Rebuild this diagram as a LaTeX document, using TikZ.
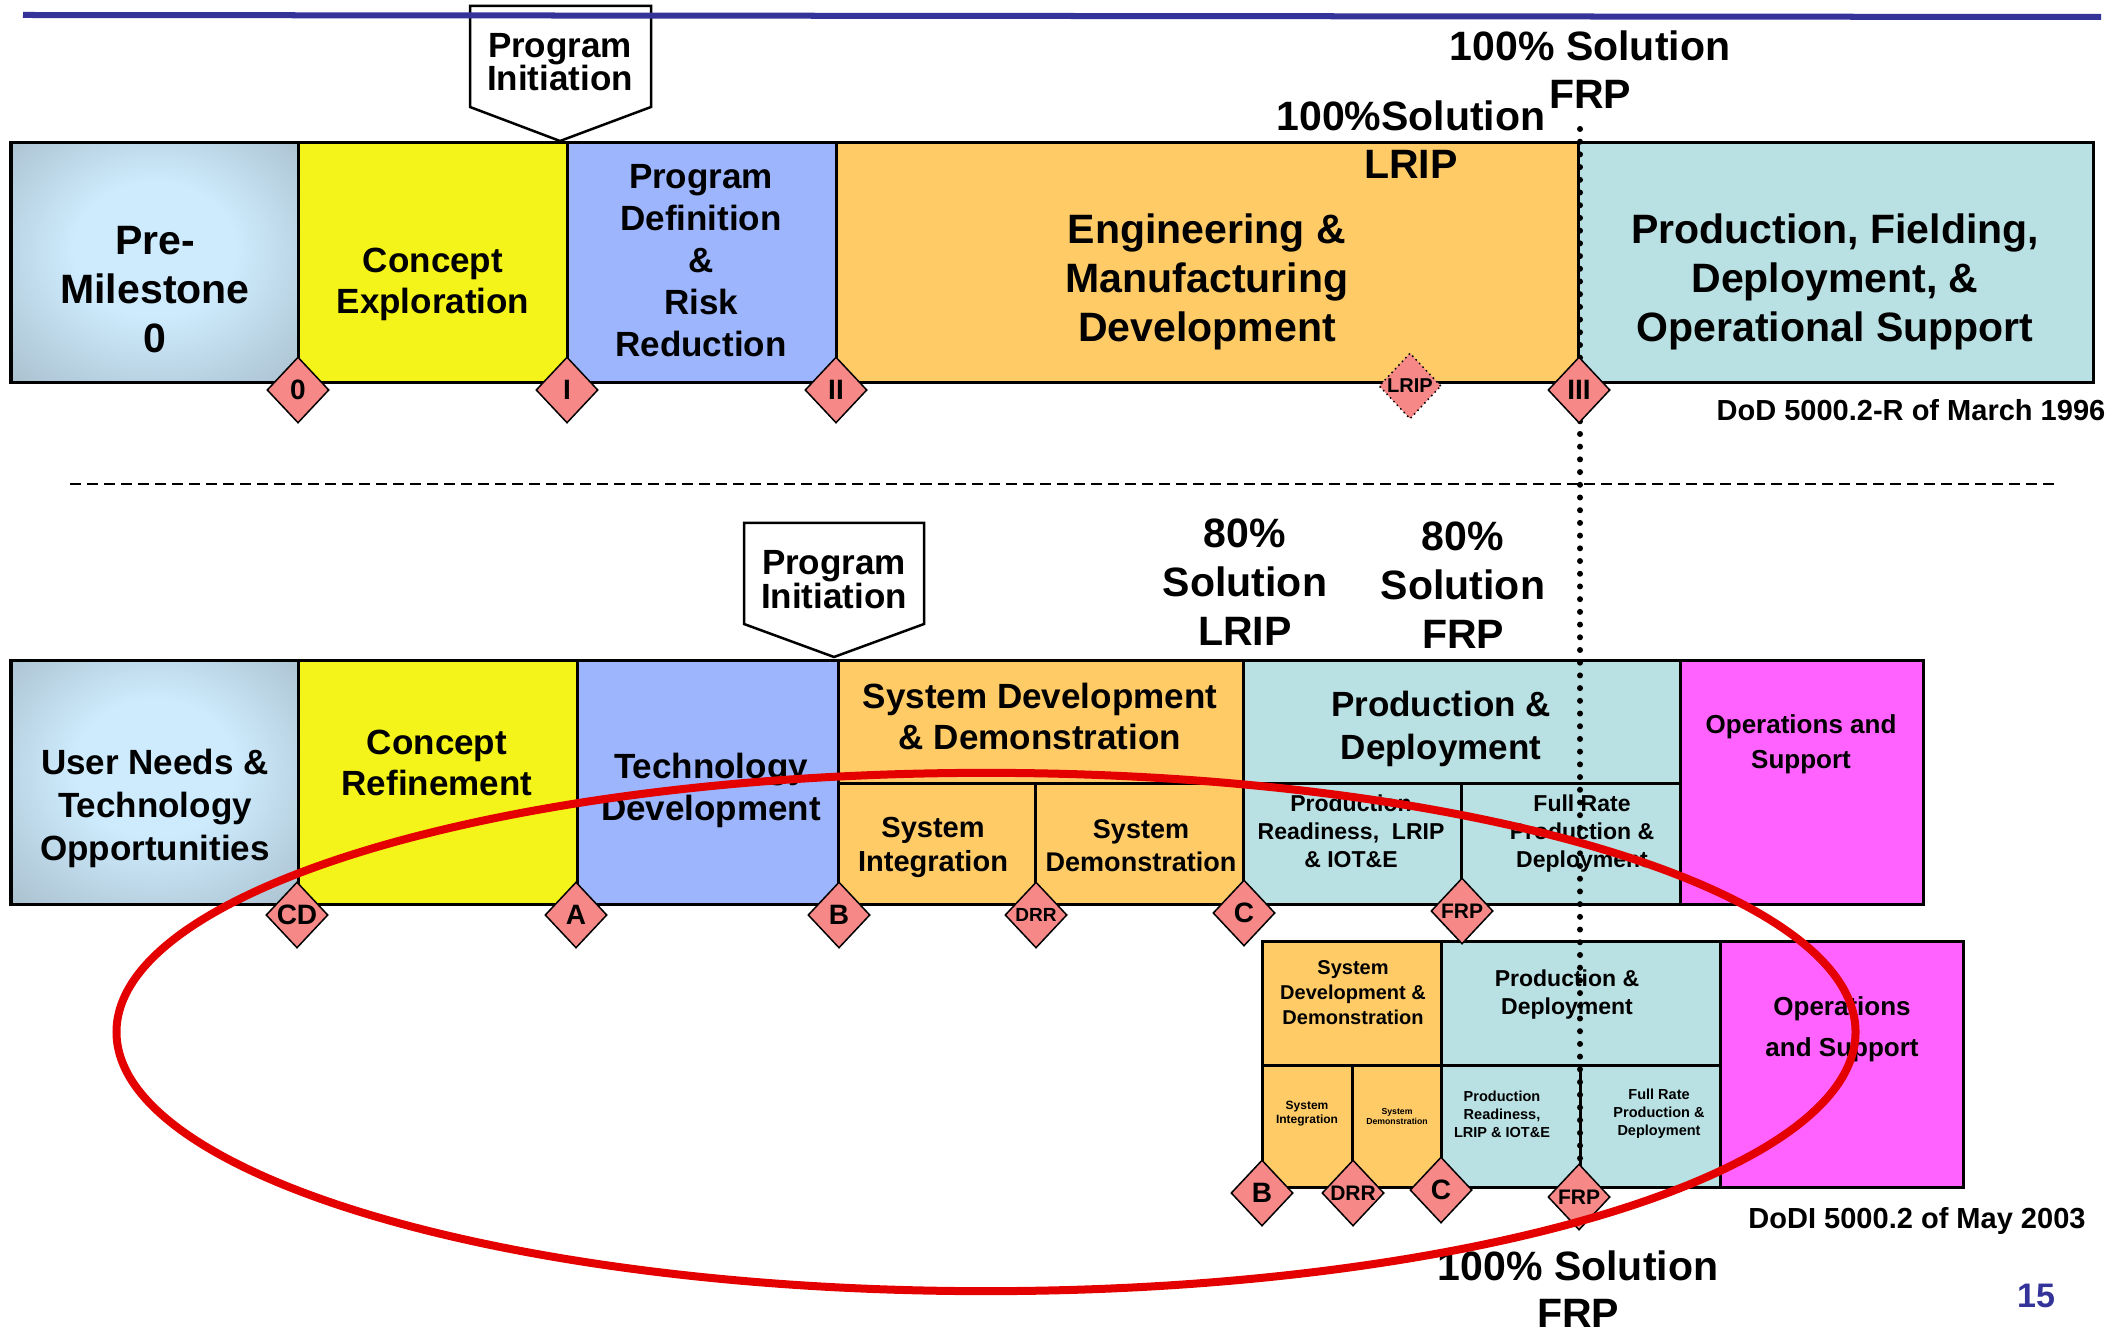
\documentclass[tikz,border=0pt]{standalone}
\usepackage{fontspec}
\setmainfont{Liberation Sans}
\usetikzlibrary{shapes.geometric}
\definecolor{pmin}{HTML}{CDEBFD}
\definecolor{pmout}{HTML}{A4B9C7}
\definecolor{cyel}{HTML}{F4F41A}
\definecolor{cper}{HTML}{9DB5FD}
\definecolor{cora}{HTML}{FECB67}
\definecolor{cteal}{HTML}{B9E0E3}
\definecolor{cmag}{HTML}{FF62FF}
\definecolor{cdia}{HTML}{F78888}
\definecolor{cblue}{HTML}{333399}
\definecolor{cred}{HTML}{E50000}
\pgfdeclareradialshading{pmshade}{\pgfpoint{0bp}{4bp}}{color(0bp)=(pmin); color(14bp)=(pmin); color(40bp)=(pmout); color(50bp)=(pmout)}
\newcommand\pxfont[2]{\pgfmathsetmacro\pxa{#1*0.28453}\pgfmathsetmacro\pxb{#2*0.28453}\fontsize{\pxa pt}{\pxb pt}\selectfont\bfseries}
\tikzset{
  box/.style={draw=black, line width=0.03cm},
  lbl/.style={align=center, inner sep=0pt, text=black},
  ms/.style={diamond, draw=black, fill=cdia, line width=0.015cm, inner sep=0pt, minimum width=0.62cm, minimum height=0.66cm, text=black},
  pent/.style={draw=black, fill=white, line width=0.025cm},
  dotline/.style={line width=0.06cm, line cap=round, dash pattern=on 0pt off 0.127cm},
}
\begin{document}
\begin{tikzpicture}[x=0.01cm,y=-0.01cm]
\path[use as bounding box] (0,0) rectangle (2107,1331);

% ---------- top (1996) ----------
\draw[pent] (470,6) -- (651,6) -- (651,107) -- (560,141) -- (470,107) -- cycle;
\draw[cblue, line width=0.06cm] (23,15) -- (2101,17);
\node[lbl, font=\pxfont{35}{33}] (pi1) at (560,62) {Program\\Initiation};

\shade[shading=pmshade] (11,143) rectangle (298,383);
\draw[box] (11,143) rectangle (298,383);
\filldraw[box, fill=cyel] (298,143) rectangle (567,383);
\filldraw[box, fill=cper] (567,143) rectangle (836,383);
\filldraw[box, fill=cora] (836,143) rectangle (1578,383);
\filldraw[box, fill=cteal] (1578,143) rectangle (2093,383);

% ---------- dashed separator ----------
\coordinate (dl) at (70,484);
\coordinate (dr) at (2058,484);
\draw[line width=0.02cm, dash pattern=on 0.11cm off 0.06cm] (dl) -- (dr);

% ---------- lower row (2003) ----------
\draw[pent] (744,523) -- (924,523) -- (924,624) -- (834,657) -- (744,624) -- cycle;
\node[lbl, font=\pxfont{35}{34}] (pi2) at (834,580) {Program\\Initiation};

\shade[shading=pmshade] (11,660) rectangle (298,904);
\draw[box] (11,660) rectangle (298,904);
\filldraw[box, fill=cyel] (298,660) rectangle (577,904);
\filldraw[box, fill=cper] (577,660) rectangle (838,904);
\filldraw[box, fill=cora] (838,660) rectangle (1243,904);
\draw[box] (838,783) -- (1243,783) (1035,783) -- (1035,904);
\filldraw[box, fill=cteal] (1243,660) rectangle (1680,904);
\draw[box] (1243,783) -- (1680,783) (1461,783) -- (1461,904);
\filldraw[box, fill=cmag] (1680,660) rectangle (1923,904);

% ---------- small group ----------
\filldraw[box, fill=cora] (1262,941) rectangle (1441,1187);
\draw[box] (1262,1065) -- (1441,1065) (1352,1065) -- (1352,1187);
\filldraw[box, fill=cteal] (1441,941) rectangle (1720,1187);
\draw[box] (1441,1065) -- (1720,1065) (1580,1065) -- (1580,1187);
\filldraw[box, fill=cmag] (1720,941) rectangle (1963,1187);

% ---------- dotted vertical ----------
\coordinate (dtop) at (1580,129);
\coordinate (dbot) at (1580,1232);
\draw[dotline] (dtop) -- (dbot);

% ---------- texts top ----------
\node[lbl, font=\pxfont{41}{49}] (t1) at (155,290) {Pre-\\Milestone\\0};
\node[lbl, font=\pxfont{35}{41}] (t2) at (433,284) {Concept\\Exploration};
\node[lbl, font=\pxfont{35}{42}] (t3) at (701,261) {Program\\Definition\\\&\\Risk\\Reduction};
\node[lbl, font=\pxfont{41}{49}] (t4) at (1207,282) {Engineering \&\\Manufacturing\\Development};
\node[lbl, font=\pxfont{41}{49}] (t5) at (1835,282) {Production, Fielding,\\Deployment, \&\\Operational Support};
\node[lbl, font=\pxfont{41}{48}] (s1) at (1590,70) {100\% Solution\\FRP};
\node[lbl, font=\pxfont{41}{48}] (s2) at (1411,140) {100\%Solution\\LRIP};
\node[lbl, font=\pxfont{29}{32}, anchor=east] (dod1) at (2106,410) {DoD 5000.2-R of March 1996};

% ---------- texts lower row ----------
\node[lbl, font=\pxfont{35}{43}] (u1) at (155,808) {User Needs \&\\Technology\\Opportunities};
\node[lbl, font=\pxfont{35}{41}] (u2) at (437,763) {Concept\\Refinement};
\node[lbl, font=\pxfont{35}{42}] (u3) at (711,790) {Technology\\Development};
\node[lbl, font=\pxfont{35}{41}] (u4) at (1040,716) {System Development\\\& Demonstration};
\node[lbl, font=\pxfont{29}{34}] (u5) at (933,847) {System\\Integration};
\node[lbl, font=\pxfont{27}{33}] (u6) at (1141,846) {System\\Demonstration};
\node[lbl, font=\pxfont{35}{43}] (u7) at (1441,729) {Production \&\\Deployment};
\node[lbl, font=\pxfont{23}{28}] (u8) at (1351,831) {Production\\Readiness,\ \ LRIP\\\& IOT\&E};
\node[lbl, font=\pxfont{23}{28}] (u9) at (1582,834) {Full Rate\\Production \&\\Deployment};
\node[lbl, font=\pxfont{26}{35}] (u10) at (1801,744) {Operations and\\Support};
\node[lbl, font=\pxfont{41}{49}] (s3) at (1245,582) {80\%\\Solution\\LRIP};
\node[lbl, font=\pxfont{41}{49}] (s4) at (1463,585) {80\%\\Solution\\FRP};

% ---------- texts small group ----------
\node[lbl, font=\pxfont{20}{25}] (v1) at (1353,993) {System\\Development \&\\Demonstration};
\node[lbl, font=\pxfont{23}{28}] (v2) at (1567,995) {Production \&\\Deployment};
\node[lbl, font=\pxfont{26}{41}] (v3) at (1842,1029) {Operations\\and Support};
\node[lbl, font=\pxfont{12}{14}] (v4) at (1307,1114) {System\\Integration};
\node[lbl, font=\pxfont{8.7}{10}] (v5) at (1397,1116) {System\\Demonstration};
\node[lbl, font=\pxfont{14.5}{18}] (v6) at (1502,1114) {Production\\Readiness,\\LRIP \& IOT\&E};
\node[lbl, font=\pxfont{14.5}{18}] (v7) at (1659,1114) {Full Rate\\Production \&\\Deployment};
\node[lbl, font=\pxfont{29}{32}] (dod2) at (1917,1221) {DoDI 5000.2 of May 2003};
\node[lbl, font=\pxfont{41}{47}] (s5) at (1578,1289) {100\% Solution\\FRP};
\node[lbl, font=\pxfont{34}{36}, text=cblue] (pg) at (2036,1296) {15};

% ---------- milestone diamonds ----------
\node[ms, font=\pxfont{28}{30}] (m0) at (298,390) {0};
\node[ms, font=\pxfont{28}{30}] (m1) at (567,390) {I};
\node[ms, font=\pxfont{28}{30}] (m2) at (836,390) {II};
\node[ms, densely dotted, font=\pxfont{20}{22}] (mlrip) at (1410,386) {LRIP};
\node[ms, font=\pxfont{28}{30}] (m3) at (1579,390) {III};

\node[ms, font=\pxfont{28}{30}] (mcd) at (297,915) {CD};
\node[ms, font=\pxfont{28}{30}] (ma) at (576,915) {A};
\node[ms, font=\pxfont{28}{30}] (mb) at (839,915) {B};
\node[ms, font=\pxfont{19}{22}] (mdrr) at (1036,915) {DRR};
\node[ms, font=\pxfont{28}{30}] (mc) at (1244,913) {C};
\node[ms, font=\pxfont{21}{22}] (mfrp) at (1462,911) {FRP};

\node[ms, font=\pxfont{28}{30}] (nb) at (1262,1193) {B};
\node[ms, font=\pxfont{21}{22}] (ndrr) at (1353,1193) {DRR};
\node[ms, font=\pxfont{28}{30}] (nc) at (1441,1190) {C};
\node[ms, font=\pxfont{21}{22}] (nfrp) at (1579,1197) {FRP};

% ---------- red ellipse ----------
\draw[cred, line width=0.08cm] (986,1032) ellipse [x radius=8.69cm, y radius=2.59cm];
\end{tikzpicture}
\end{document}
